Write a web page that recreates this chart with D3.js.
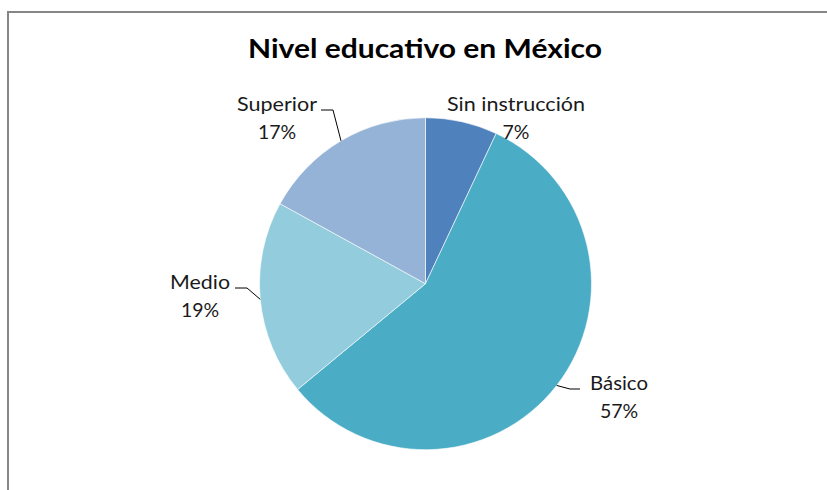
<!DOCTYPE html>
<html><head><meta charset="utf-8">
<script src="https://cdn.jsdelivr.net/npm/d3@7"></script>
<style>body{margin:0;background:#fff}svg{display:block}</style>
</head><body>
<svg id="c" width="827" height="490"></svg>
<script>
const title = "Nivel educativo en México";
const categories = ["Sin instrucción", "Básico", "Medio", "Superior"];
const values = [7, 57, 19, 17];
const colors = ["#4F81BD", "#4BACC6", "#93CDDD", "#95B3D7"];

const svg = d3.select("#c");
const W = 827, H = 490;
svg.append("rect").attr("x", 8).attr("y", 12).attr("width", W + 20).attr("height", H + 20)
  .attr("fill", "#fff").attr("stroke", "#868686").attr("stroke-width", 2);

const font = "Lato, 'Open Sans', sans-serif";
svg.append("text").attr("x", 425).attr("y", 58).attr("text-anchor", "middle")
  .attr("font-family", font).attr("font-weight", "bold").attr("font-size", 27)
  .attr("textLength", 354).attr("lengthAdjust", "spacingAndGlyphs")
  .attr("fill", "#000").text(title);

const cx = 425.5, cy = 283.7, R = 166;
const data = categories.map((c, i) => ({ cat: c, val: values[i], color: colors[i] }));
const pie = d3.pie().sort(null).value(d => d.val);
const arcs = pie(data);
const arc = d3.arc().innerRadius(0).outerRadius(R);
const g = svg.append("g").attr("transform", `translate(${cx},${cy})`);
g.selectAll("path").data(arcs).join("path").attr("d", arc)
  .attr("fill", d => d.data.color).attr("stroke", "#fff").attr("stroke-width", 0.6);

const labelPos = {
  "Sin instrucción": { x: 516, y: 111, w: 138 },
  "Básico": { x: 619, y: 390, anchorX: 580, side: "left", w: 58 },
  "Medio": { x: 200, y: 289, anchorX: 235, side: "right", w: 60 },
  "Superior": { x: 277, y: 111, anchorX: 321, side: "right", w: 80 }
};
const pct = d3.format(".0%");
const total = d3.sum(values);
arcs.forEach(a => {
  const p = labelPos[a.data.cat];
  const t = svg.append("text").attr("font-family", font).attr("font-size", 19.5)
    .attr("fill", "#1a1a1a").attr("text-anchor", "middle");
  t.append("tspan").attr("x", p.x).attr("y", p.y)
    .attr("textLength", p.w).attr("lengthAdjust", "spacingAndGlyphs").text(a.data.cat);
  t.append("tspan").attr("x", p.x).attr("y", p.y + 28).text(pct(a.data.val / total));
  if (p.anchorX !== undefined) {
    const mid = (a.startAngle + a.endAngle) / 2;
    const ex = cx + R * Math.sin(mid), ey = cy - R * Math.cos(mid);
    const ly = p.y - 1;
    const elbowX = p.side === "right" ? p.anchorX + 12 : p.anchorX - 10;
    svg.append("path")
      .attr("d", `M${p.anchorX},${ly}L${elbowX},${ly}L${ex},${ey}`)
      .attr("fill", "none").attr("stroke", "#000").attr("stroke-width", 1);
  }
});
</script>
</body></html>
